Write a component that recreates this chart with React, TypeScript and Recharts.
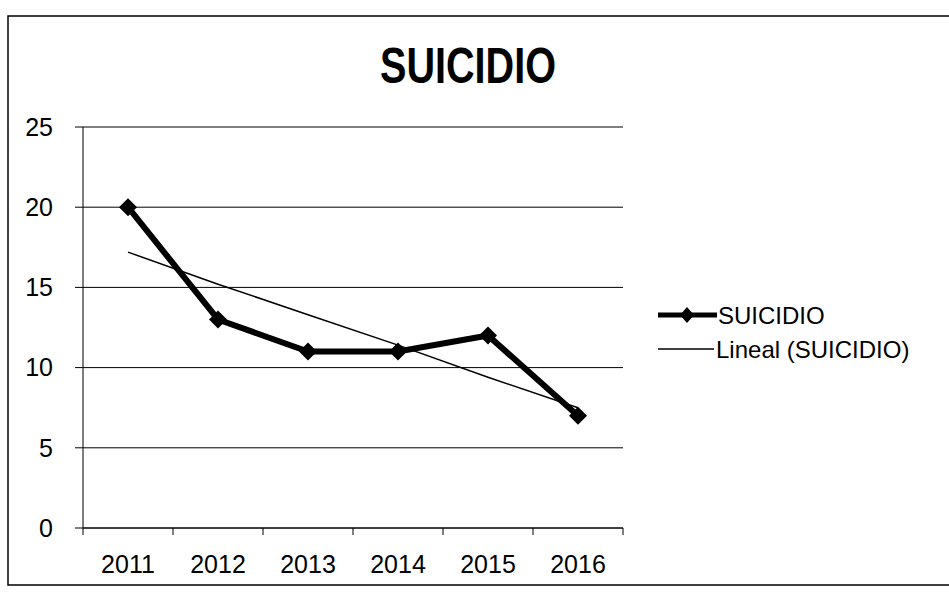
import { CartesianGrid, Line, LineChart, XAxis, YAxis } from 'recharts';

const years = ['2011', '2012', '2013', '2014', '2015', '2016'];
const suicidio = [20, 13, 11, 11, 12, 7];
const lineal = [17.2, 15.2, 13.3, 11.4, 9.4, 7.5];
const yTicks = [0, 5, 10, 15, 20, 25];

const data = years.map((year, i) => ({ year, suicidio: suicidio[i], lineal: lineal[i] }));

const FONT = '"Liberation Sans", Arial, sans-serif';
const BAND = 90;

function Diamond(props: any) {
  const { cx, cy, index } = props;
  if (cx == null || cy == null) return null;
  const r = 9;
  return (
    <path
      key={`d-${index}`}
      d={`M${cx},${cy - r} L${cx + r},${cy} L${cx},${cy + r} L${cx - r},${cy} Z`}
      fill="#000"
    />
  );
}

// excel style: tick marks between categories, labels centred in each band
function YearTick(props: any) {
  const { x, y, payload, index } = props;
  const last = index === years.length - 1;
  return (
    <g>
      <line x1={x - BAND / 2} y1={y} x2={x - BAND / 2} y2={y + 7} stroke="#000" />
      {last ? <line x1={x + BAND / 2} y1={y} x2={x + BAND / 2} y2={y + 7} stroke="#000" /> : null}
      <text x={x} y={y + 45} textAnchor="middle" fontSize={25} fontFamily={FONT} fill="#000">
        {payload.value}
      </text>
    </g>
  );
}

export default function App() {
  return (
    <div style={{ position: 'absolute', left: 0, top: 0, width: 949, height: 593, background: '#fff' }}>
      <LineChart
        width={949}
        height={593}
        data={data}
        margin={{ top: 127, right: 326, bottom: 0, left: 0 }}
      >
        <CartesianGrid stroke="#000" vertical={false} />
        <XAxis
          dataKey="year"
          height={65}
          padding={{ left: BAND / 2, right: BAND / 2 }}
          axisLine={{ stroke: '#000' }}
          tickLine={false}
          tickSize={0}
          tickMargin={0}
          tick={<YearTick />}
          interval={0}
        />
        <YAxis
          width={83}
          domain={[0, 25]}
          ticks={yTicks}
          axisLine={{ stroke: '#000' }}
          tickLine={{ stroke: '#000' }}
          tickSize={8}
          tickMargin={22}
          tick={{ fill: '#000', fontSize: 25, fontFamily: FONT }}
        />
        <Line
          dataKey="lineal"
          type="linear"
          stroke="#000"
          strokeWidth={1.5}
          dot={false}
          isAnimationActive={false}
        />
        <Line
          dataKey="suicidio"
          type="linear"
          stroke="#000"
          strokeWidth={6}
          dot={<Diamond />}
          isAnimationActive={false}
        />
      </LineChart>
      <svg
        width={949}
        height={593}
        style={{ position: 'absolute', left: 0, top: 0, pointerEvents: 'none' }}
      >
        <rect x={8} y={16} width={960} height={569} fill="none" stroke="#000" strokeWidth={1.5} />
        <text
          x={380}
          y={83}
          fontSize={50}
          fontWeight="bold"
          fontFamily={FONT}
          textLength={176}
          lengthAdjust="spacingAndGlyphs"
          fill="#000"
        >
          SUICIDIO
        </text>
        <line x1={658} y1={315} x2={717} y2={315} stroke="#000" strokeWidth={5} />
        <path d="M687,307 L694,315 L687,323 L680,315 Z" fill="#000" />
        <text x={718} y={324} fontSize={24} fontFamily={FONT} fill="#000">
          SUICIDIO
        </text>
        <line x1={658} y1={349} x2={714} y2={349} stroke="#000" strokeWidth={1.5} />
        <text x={716} y={358} fontSize={24} fontFamily={FONT} fill="#000">
          Lineal (SUICIDIO)
        </text>
      </svg>
    </div>
  );
}
